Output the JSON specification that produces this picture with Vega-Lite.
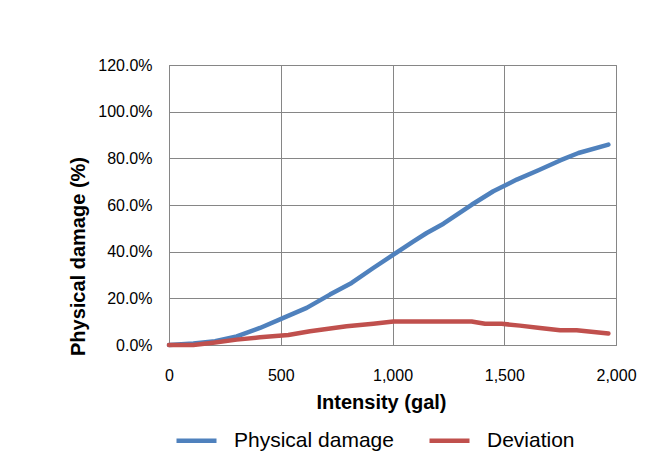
{
  "$schema": "https://vega.github.io/schema/vega-lite/v6.json",
  "width": 447,
  "height": 280,
  "autosize": {"type": "none"},
  "padding": {"left": 169, "top": 65, "right": 32, "bottom": 120},
  "background": "white",
  "config": {
    "font": "Liberation Sans",
    "view": {"stroke": "#868686", "strokeWidth": 1}
  },
  "data": {
    "values": [
      {"x": 0, "series": "Physical damage", "v": 0.0},
      {"x": 109, "series": "Physical damage", "v": 0.006},
      {"x": 206, "series": "Physical damage", "v": 0.016},
      {"x": 303, "series": "Physical damage", "v": 0.037},
      {"x": 407, "series": "Physical damage", "v": 0.073},
      {"x": 512, "series": "Physical damage", "v": 0.116},
      {"x": 616, "series": "Physical damage", "v": 0.159},
      {"x": 720, "series": "Physical damage", "v": 0.216},
      {"x": 817, "series": "Physical damage", "v": 0.266},
      {"x": 914, "series": "Physical damage", "v": 0.33},
      {"x": 1004, "series": "Physical damage", "v": 0.387},
      {"x": 1094, "series": "Physical damage", "v": 0.444},
      {"x": 1153, "series": "Physical damage", "v": 0.48},
      {"x": 1228, "series": "Physical damage", "v": 0.52},
      {"x": 1354, "series": "Physical damage", "v": 0.601},
      {"x": 1451, "series": "Physical damage", "v": 0.659},
      {"x": 1556, "series": "Physical damage", "v": 0.709},
      {"x": 1653, "series": "Physical damage", "v": 0.749},
      {"x": 1750, "series": "Physical damage", "v": 0.791},
      {"x": 1832, "series": "Physical damage", "v": 0.823},
      {"x": 1966, "series": "Physical damage", "v": 0.859},
      {"x": 0, "series": "Deviation", "v": 0.0},
      {"x": 109, "series": "Deviation", "v": 0.0},
      {"x": 206, "series": "Deviation", "v": 0.011},
      {"x": 303, "series": "Deviation", "v": 0.023},
      {"x": 407, "series": "Deviation", "v": 0.033},
      {"x": 534, "series": "Deviation", "v": 0.043},
      {"x": 631, "series": "Deviation", "v": 0.059},
      {"x": 795, "series": "Deviation", "v": 0.08},
      {"x": 914, "series": "Deviation", "v": 0.091},
      {"x": 1004, "series": "Deviation", "v": 0.101},
      {"x": 1354, "series": "Deviation", "v": 0.101},
      {"x": 1414, "series": "Deviation", "v": 0.091},
      {"x": 1488, "series": "Deviation", "v": 0.091},
      {"x": 1570, "series": "Deviation", "v": 0.083},
      {"x": 1660, "series": "Deviation", "v": 0.073},
      {"x": 1750, "series": "Deviation", "v": 0.063},
      {"x": 1824, "series": "Deviation", "v": 0.063},
      {"x": 1966, "series": "Deviation", "v": 0.049}
    ]
  },
  "mark": {"type": "line", "strokeWidth": 4.5, "strokeCap": "round", "strokeJoin": "round"},
  "encoding": {
    "x": {
      "field": "x", "type": "quantitative",
      "scale": {"domain": [0, 2000], "nice": false},
      "axis": {
        "values": [0, 500, 1000, 1500, 2000], "format": ",d", "labelFlush": false, "labelOverlap": false,
        "title": "Intensity (gal)", "titleFontSize": 20, "titleFontWeight": "bold", "titleColor": "#000",
        "titleX": 212, "titlePadding": 9,
        "labelFontSize": 16, "labelColor": "#000", "labelPadding": 22, "ticks": false,
        "domainColor": "#868686", "gridColor": "#868686", "gridOpacity": 1, "grid": true
      }
    },
    "y": {
      "field": "v", "type": "quantitative",
      "scale": {"domain": [0, 1.2], "nice": false},
      "axis": {
        "values": [0, 0.2, 0.4, 0.6, 0.8, 1.0, 1.2], "format": ".1%",
        "title": "Physical damage (%)", "titleFontSize": 20, "titleFontWeight": "bold", "titleColor": "#000",
        "titleX": -91, "titleY": 191, "titleAlign": "center", "titleAngle": -90, "titleBaseline": "middle",
        "labelFontSize": 16, "labelColor": "#000", "labelPadding": 17, "ticks": false,
        "domainColor": "#868686", "gridColor": "#868686", "gridOpacity": 1, "grid": true
      }
    },
    "color": {
      "field": "series", "type": "nominal",
      "scale": {"domain": ["Physical damage", "Deviation"], "range": ["#4F81BD", "#C0504D"]},
      "legend": {
        "orient": "none", "legendX": 5, "legendY": 353, "direction": "horizontal",
        "title": null, "symbolType": "stroke", "symbolSize": 1600, "symbolStrokeWidth": 4.5,
        "labelFontSize": 21, "labelColor": "#000", "labelOffset": 15, "columnPadding": 26
      }
    }
  }
}
